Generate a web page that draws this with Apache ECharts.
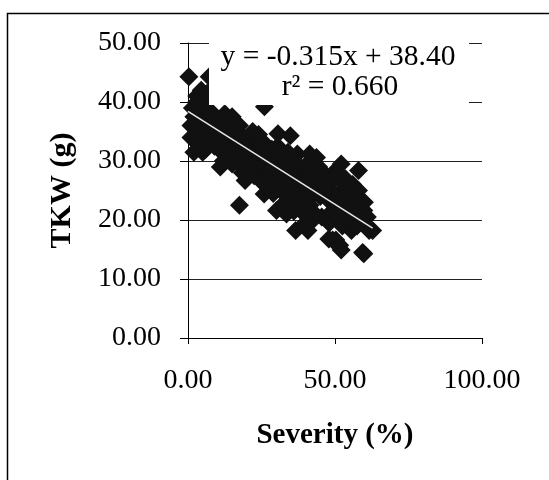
<!DOCTYPE html>
<html>
<head>
<meta charset="utf-8">
<script src="https://cdn.jsdelivr.net/npm/echarts@6/dist/echarts.min.js"></script>
<style>html,body{margin:0;padding:0;background:#fff;}#c{width:549px;height:480px;}</style>
</head>
<body>
<div id="c"></div>
<script>
// Severity (%) values
var severity = [
  0.3, 7.2, 26.0, 3, 4.5, 6.5, 2, 5, 11, 17.5, 19.4, 25.9, 30.1, 31.2, 26.5, 30.6, 34.8, 36.6, 40.8, 38.4,
  37.2, 41.4, 43.7, 43.7, 42, 47.3, 47.9, 50.3, 52.1, 50.2, 52.1, 58, 59.8, 61.6, 59.8, 55.6, 53.9, 47.9, 55, 56.8,
  1, 1.5, 2, 3, 3, 4, 4.5, 5, 5.5, 6, 6.5, 7, 7.5, 8, 8.5, 9, 9.5, 10, 1, 3.5, 6,
  10.5, 11, 11.5, 12, 12.5, 13, 13.5, 14, 14.5, 15, 15.5, 16, 16.5, 17, 17.5, 18, 18.5, 19, 19.5, 20, 12, 15,
  21, 21.5, 22, 22.5, 23, 23.5, 24, 24.5, 25, 25.5, 26, 26.5, 27, 27.5, 28, 28.5, 29, 29.5, 30, 22, 24,
  30.5, 31, 31.5, 32, 32.5, 33, 33.5, 34, 34.5, 35, 35.5, 36, 36.5, 37, 37.5, 38, 38.5, 39, 39.5, 40, 33.5, 36,
  40.5, 41, 41.5, 42, 42.5, 43, 43.5, 44.5, 45, 45.5, 46, 47, 47.5, 48, 48.5, 49, 49.5, 50, 39.7, 49.2, 51.6, 59.4, 62.8,
  50.5, 51, 51.5, 52, 52.5, 53, 53.5, 54, 54.5, 55, 55.5, 56, 56.5, 57, 57.5, 58, 58.5, 59, 60, 61
];
// TKW (g) values
var tkw = [
  44.3, 44.3, 39.2, 41, 42, 41.5, 31.5, 31.5, 29, 22.5, 26.7, 24.4, 21.6, 26.7, 31.8, 34.6, 34.3, 18.2, 18.2, 24.5,
  31.2, 31.2, 30.6, 28.1, 21.6, 25.3, 16.8, 16.6, 14.9, 28.4, 29.5, 28.4, 14.3, 18.2, 21.6, 18.2, 23.3, 20.5, 25.6, 23.9,
  36, 39, 37.5, 35, 40, 38, 36.5, 34, 39.5, 37, 35.5, 33, 38.5, 36, 34.5, 32.5, 37, 35, 34, 33, 32,
  33.5, 37, 31.5, 35, 38, 33, 36, 31, 34.5, 37.5, 32.5, 35, 30, 33.5, 36, 31.5, 28, 34, 30.5, 32.5, 30, 29.5,
  29, 33, 31, 27.5, 30, 33.5, 28.5, 31.5, 26.5, 29.5, 33, 27, 30.5, 25.5, 28.5, 32, 24.5, 27, 30, 35, 34.5,
  32.5, 28, 25, 30.5, 27, 23, 29, 31.5, 26, 28.5, 24, 30, 27.5, 25.5, 22.5, 29, 26.5, 24, 21, 27, 21, 21.5,
  29.5, 25, 22.5, 27.5, 20, 24.5, 26.5, 29, 24, 20.5, 26, 27.5, 23.5, 19.5, 25, 21.5, 27, 23, 19.4, 16.6, 15.7, 14.5, 18.2,
  27.5, 20.5, 24.5, 26.5, 19, 22, 27, 20.5, 24.5, 22, 19.5, 26, 21, 23.5, 19, 25, 21.5, 20, 23, 20.5
];
// regression line y = slope*x + intercept, drawn over the observed severity range
var slope = -0.315;
var intercept = 38.40;
var trendX = [0, 62.8];
var eqLine1 = 'y = -0.315x + 38.40';
var eqLine2 = 'r² = 0.660';

var points = severity.map(function (x, i) { return [x, tkw[i]]; });
var trend = trendX.map(function (x) { return [x, slope * x + intercept]; });

var chart = echarts.init(document.getElementById('c'), null, {renderer: 'canvas'});
var serif = 'Liberation Serif, Times New Roman, serif';
chart.setOption({
  animation: false,
  backgroundColor: '#fff',
  grid: {left: 188, top: 43, width: 294, height: 295, containLabel: false},
  xAxis: {
    type: 'value', min: 0, max: 100, interval: 50,
    name: 'Severity (%)', nameLocation: 'middle', nameGap: 83,
    nameTextStyle: {fontFamily: serif, fontSize: 29, fontWeight: 'bold', color: '#000'},
    axisLine: {show: true, lineStyle: {color: '#000', width: 1}},
    axisTick: {show: true, inside: false, length: 6, lineStyle: {color: '#000'}},
    axisLabel: {fontFamily: serif, fontSize: 28, color: '#000', margin: 29,
      formatter: function (v) { return v.toFixed(2); }},
    splitLine: {show: false}
  },
  yAxis: {
    type: 'value', min: 0, max: 50, interval: 10,
    name: 'TKW (g)', nameLocation: 'middle', nameGap: 111,
    nameTextStyle: {fontFamily: serif, fontSize: 30, fontWeight: 'bold', color: '#000'},
    axisLine: {show: true, lineStyle: {color: '#000', width: 1}},
    axisTick: {show: true, inside: false, length: 8, lineStyle: {color: '#000'}},
    axisLabel: {fontFamily: serif, fontSize: 28, color: '#000', margin: 27,
      formatter: function (v) { return v.toFixed(2); }},
    splitLine: {show: true, lineStyle: {color: '#222', width: 1}}
  },
  series: [
    {
      type: 'scatter', data: points, symbol: 'diamond', symbolSize: 19,
      itemStyle: {color: '#111', opacity: 1}, z: 2
    },
    {
      type: 'line', data: trend, symbol: 'none', silent: true,
      lineStyle: {color: '#e8e8e8', width: 1.5}, z: 3
    }
  ],
  graphic: [
    {type: 'rect', z: 100, shape: {x: 209, y: 36, width: 260, height: 69},
      style: {fill: '#fff', stroke: null}},
    {type: 'text', z: 101, x: 338, y: 57,
      style: {text: eqLine1, font: '29.5px ' + serif, fill: '#000', textAlign: 'center', textVerticalAlign: 'middle'}},
    {type: 'text', z: 101, x: 340, y: 87,
      style: {text: eqLine2, font: '29.5px ' + serif, fill: '#000', textAlign: 'center', textVerticalAlign: 'middle'}},
    {type: 'rect', z: 100, shape: {x: 7.5, y: 13.5, width: 700, height: 700},
      style: {fill: null, stroke: '#000', lineWidth: 1.5}}
  ]
});
</script>
</body>
</html>
